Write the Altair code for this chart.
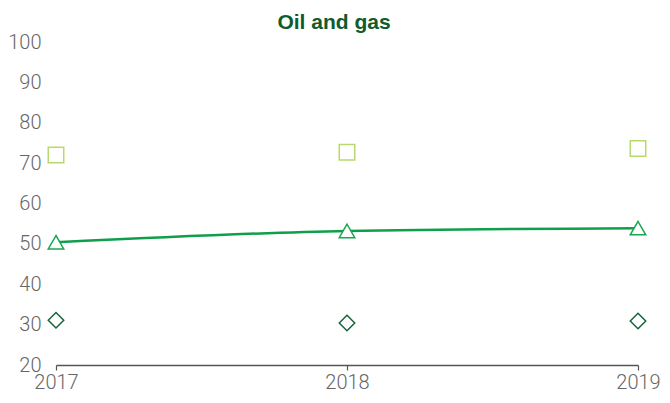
import altair as alt
import pandas as pd

years = [2017, 2018, 2019]
series_names = ["Square", "Triangle", "Diamond"]
square_vals = [72.0, 72.7, 73.6]
triangle_vals = [50.4, 53.2, 53.9]
diamond_vals = [31.1, 30.4, 30.9]

rows = []
for name, vals in zip(series_names, [square_vals, triangle_vals, diamond_vals]):
    for y, v in zip(years, vals):
        rows.append({"year": str(y), "series": name, "value": v})
df = pd.DataFrame(rows)

colors = ["#b7d96e", "#1ba552", "#17653a"]
shapes = ["square", "triangle-up", "diamond"]

x_enc = alt.X("year:O", scale=alt.Scale(type="point", padding=0),
              axis=alt.Axis(title=None, grid=False, labelAngle=0,
                            domainColor="#555555", domainWidth=1.5,
                            tickColor="#555555", tickWidth=1.2, tickSize=5,
                            labelFont="Roboto", labelFontWeight=300, labelFontSize=20,
                            labelColor="#666666", labelPadding=2,
                            labelOverlap=False, labelBound=False))
y_enc = alt.Y("value:Q", scale=alt.Scale(domain=[20, 100], nice=False, zero=False),
              axis=alt.Axis(values=list(range(20, 101, 10)), title=None, grid=False,
                            domain=False, ticks=False, labelFont="Roboto",
                            labelFontWeight=300, labelFontSize=20, labelColor="#666666",
                            labelPadding=15, labelOverlap=False))

line = alt.Chart(df).transform_filter(alt.datum.series == "Triangle").mark_line(
    color="#0f9e4a", strokeWidth=2.5, interpolate="monotone"
).encode(x=x_enc, y=y_enc)

points = alt.Chart(df).mark_point(filled=False, fill="white", fillOpacity=1,
                                  size=240, strokeWidth=1.5, opacity=1).encode(
    x=x_enc, y=y_enc,
    color=alt.Color("series:N", scale=alt.Scale(domain=series_names, range=colors), legend=None),
    shape=alt.Shape("series:N", scale=alt.Scale(domain=series_names, range=shapes), legend=None),
)

chart = alt.layer(line, points).properties(
    width=582, height=323,
    title=alt.TitleParams("Oil and gas", fontSize=21, fontWeight="bold", color="#0d5c2e",
                          font="Liberation Sans", anchor="middle", offset=-1, dx=-13),
    autosize="none",
    padding={"left": 48, "top": 34, "right": 24, "bottom": 30},
).configure_view(stroke=None)

chart.save("out.html", embed_options={"renderer": "svg", "actions": False})
